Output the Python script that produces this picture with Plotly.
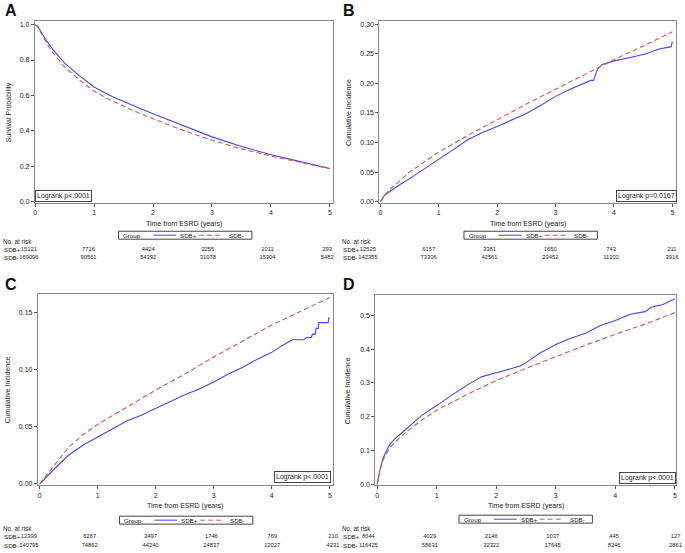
import plotly.graph_objects as go

W, H = 685, 553
def PX(px): return px / W
def PY(py): return 1 - py / H

# ---------------- data ----------------
risk_times = [0, 1, 2, 3, 4, 5]

# Panel A: survival probability
times_a = [0, 0.05, 0.1, 0.15, 0.2, 0.3, 0.4, 0.5, 0.75, 1.0, 1.25, 1.5, 1.75, 2.0, 2.5, 3.0, 3.5, 4.0, 4.5, 5.0]
sdbp_a = [1.0, 0.988, 0.96, 0.93, 0.905, 0.86, 0.818, 0.782, 0.712, 0.648, 0.603, 0.565, 0.53, 0.497, 0.43, 0.366, 0.312, 0.265, 0.226, 0.187]
sdbm_a = [1.0, 0.985, 0.952, 0.92, 0.892, 0.842, 0.798, 0.76, 0.688, 0.625, 0.578, 0.538, 0.502, 0.468, 0.404, 0.347, 0.298, 0.258, 0.222, 0.186]
risk_a_p = [15121, 7716, 4424, 2255, 1011, 293]
risk_a_m = [169096, 90561, 54392, 31078, 15304, 5482]

# Panel B: cumulative incidence
times_bp = [0, 0.05, 0.1, 0.2, 0.35, 0.5, 0.75, 1, 1.25, 1.5, 1.75, 2, 2.25, 2.5, 2.75, 3, 3.25, 3.5, 3.6, 3.65, 3.72, 3.8, 4.0, 4.3, 4.55, 4.77, 4.94, 4.98, 5.0]
sdbp_b = [0, 0.008, 0.013, 0.02, 0.03, 0.039, 0.055, 0.071, 0.088, 0.105, 0.117, 0.127, 0.138, 0.149, 0.163, 0.178, 0.19, 0.201, 0.205, 0.205, 0.224, 0.232, 0.238, 0.244, 0.25, 0.258, 0.262, 0.262, 0.271]
times_bm = [0, 0.05, 0.1, 0.2, 0.35, 0.5, 0.75, 1, 1.5, 2, 2.5, 3, 3.5, 4, 4.5, 5]
sdbm_b = [0, 0.008, 0.014, 0.024, 0.037, 0.05, 0.067, 0.084, 0.112, 0.139, 0.165, 0.19, 0.215, 0.24, 0.263, 0.287]
risk_b_p = [12525, 6157, 3381, 1650, 743, 211]
risk_b_m = [142355, 73306, 42561, 23452, 11202, 3916]

# Panel C: cumulative incidence
times_cp = [0, 0.05, 0.1, 0.25, 0.5, 0.75, 1, 1.25, 1.5, 1.75, 2, 2.25, 2.5, 2.75, 3, 3.25, 3.5, 3.75, 4, 4.15, 4.3, 4.35, 4.55, 4.6, 4.68, 4.7, 4.75, 4.76, 4.8, 4.81, 4.97, 4.98, 5.0]
sdbp_c = [0, 0.002, 0.005, 0.013, 0.025, 0.034, 0.041, 0.048, 0.055, 0.06, 0.066, 0.072, 0.078, 0.083, 0.089, 0.096, 0.102, 0.109, 0.115, 0.12, 0.125, 0.126, 0.126, 0.128, 0.128, 0.131, 0.131, 0.136, 0.136, 0.141, 0.141, 0.145, 0.145]
times_cm = [0, 0.05, 0.1, 0.25, 0.5, 0.75, 1, 1.5, 2, 2.5, 3, 3.5, 4, 4.5, 5]
sdbm_c = [0, 0.003, 0.006, 0.016, 0.032, 0.043, 0.052, 0.067, 0.082, 0.096, 0.111, 0.125, 0.139, 0.151, 0.163]
risk_c_p = [12399, 6267, 3497, 1746, 769, 210]
risk_c_m = [140795, 74862, 44240, 24837, 12027, 4231]

# Panel D: cumulative incidence
times_dp = [0, 0.02, 0.05, 0.1, 0.2, 0.3, 0.5, 0.75, 1, 1.25, 1.5, 1.75, 2, 2.25, 2.4, 2.5, 2.75, 3, 3.25, 3.5, 3.75, 4, 4.25, 4.5, 4.6, 4.8, 5]
sdbp_d = [0, 0.02, 0.045, 0.078, 0.115, 0.135, 0.167, 0.204, 0.233, 0.264, 0.292, 0.318, 0.33, 0.343, 0.35, 0.36, 0.39, 0.414, 0.432, 0.447, 0.47, 0.485, 0.503, 0.511, 0.524, 0.532, 0.549]
times_dm = [0, 0.02, 0.05, 0.1, 0.2, 0.3, 0.5, 0.75, 1, 1.5, 2, 2.5, 3, 3.5, 4, 4.5, 5]
sdbm_d = [0, 0.02, 0.043, 0.072, 0.105, 0.125, 0.157, 0.19, 0.219, 0.265, 0.307, 0.343, 0.378, 0.412, 0.444, 0.474, 0.508]
risk_d_p = [8644, 4029, 2146, 1037, 445, 127]
risk_d_m = [116425, 58631, 32322, 17645, 8246, 2861]

panel_letters = ["A", "B", "C", "D"]
group_labels = ["SDB+", "SDB-"]
logrank_texts = ["Logrank p&lt;.0001", "Logrank p=0.0167", "Logrank p&lt;.0001", "Logrank p&lt;.0001"]
y_titles = ["Survival Probability", "Cumulative Incidence", "Cumulative Incidence", "Cumulative Incidence"]
x_title = "Time from ESRD (years)"

# ---------------- style ----------------
FONT = "Liberation Sans, Arial, sans-serif"
BLUE = "rgb(70,70,235)"
RED = "rgb(215,85,85)"
TXT = "#222222"
FS = 7        # axis text
LFS = 6.2     # risk-table labels / legend
NFS = 5.8     # risk-table numbers

fig = go.Figure()

panels = [
    dict(tp=times_a, yp=sdbp_a, tm=times_a, ym=sdbm_a, rp=risk_a_p, rm=risk_a_m,
         xdom=(33, 332), ydom=(20, 203), xr=[-0.005, 5.045], yr=[-0.007, 1.021], dtick=0.2, fmt=".1f",
         rdom=(27.0, 326.6), rows=(249.5, 257.5), nar=241.5, lx=0,
         leg_cx=184, leg_y=235.5, xt_y=224, lr=(61.3, 196.4), ytx=6.5, letter=(9, 10)),
    dict(tp=times_bp, yp=sdbp_b, tm=times_bm, ym=sdbm_b, rp=risk_b_p, rm=risk_b_m,
         xdom=(379, 677), ydom=(20.5, 203), xr=[-0.017, 5.063], yr=[-0.002, 0.3047], dtick=0.05, fmt=".2f",
         rdom=(367.5, 672.9), rows=(249.5, 257.5), nar=241.5, lx=340,
         leg_cx=531, leg_y=235.5, xt_y=224, lr=(647.3, 196.0), ytx=347.5, letter=(349, 10)),
    dict(tp=times_cp, yp=sdbp_c, tm=times_cm, ym=sdbm_c, rp=risk_c_p, rm=risk_c_m,
         xdom=(36, 332), ydom=(295, 487), xr=[-0.03, 5.046], yr=[-0.0013, 0.1657], dtick=0.05, fmt=".2f",
         rdom=(27.0, 332.5), rows=(538.5, 547.5), nar=530.5, lx=0,
         leg_cx=185, leg_y=522, xt_y=508, lr=(302.2, 478.8), ytx=5.5, letter=(9, 285)),
    dict(tp=times_dp, yp=sdbp_d, tm=times_dm, ym=sdbm_d, rp=risk_d_p, rm=risk_d_m,
         xdom=(375, 677), ydom=(296, 487), xr=[-0.03, 5.02], yr=[-0.003, 0.559], dtick=0.1, fmt=".1f",
         rdom=(368, 676.5), rows=(538.5, 547.5), nar=530.5, lx=340,
         leg_cx=526, leg_y=521, xt_y=508, lr=(648.3, 479.2), ytx=346.5, letter=(349, 285)),
]

annotations = []
shapes = []
layout_axes = {}

for i, p in enumerate(panels):
    n = i + 1
    xa = "x" if n == 1 else f"x{n}"
    ya = "y" if n == 1 else f"y{n}"
    xk = "xaxis" if n == 1 else f"xaxis{n}"
    yk = "yaxis" if n == 1 else f"yaxis{n}"
    # curves
    fig.add_trace(go.Scatter(x=p["tp"], y=p["yp"], mode="lines", line=dict(color=BLUE, width=1.1),
                             xaxis=xa, yaxis=ya, showlegend=False, name="SDB+"))
    fig.add_trace(go.Scatter(x=p["tm"], y=p["ym"], mode="lines", line=dict(color=RED, width=1.1, dash="5px,3px"),
                             xaxis=xa, yaxis=ya, showlegend=False, name="SDB-"))
    common = dict(showline=True, linecolor="#8a8a8a", linewidth=1, mirror=True, showgrid=False,
                  zeroline=False, ticks="outside", ticklen=3, tickwidth=1, tickcolor="#555",
                  tickfont=dict(size=FS, color=TXT, family=FONT))
    layout_axes[xk] = dict(domain=[PX(p["xdom"][0]), PX(p["xdom"][1])], range=p["xr"], anchor=ya,
                           tickmode="linear", tick0=0, dtick=1, **common)
    layout_axes[yk] = dict(domain=[PY(p["ydom"][1]), PY(p["ydom"][0])], range=p["yr"], anchor=xa,
                           tickmode="linear", tick0=0, dtick=p["dtick"], tickformat=p["fmt"], **common)
    # risk table axis
    rn = n + 4
    rxk, ryk = f"xaxis{rn}", f"yaxis{rn}"
    r0, r1 = p["rows"]
    step = r1 - r0
    layout_axes[rxk] = dict(domain=[PX(p["rdom"][0]), PX(p["rdom"][1])], range=[0, 5], visible=False, anchor=f"y{rn}")
    layout_axes[ryk] = dict(domain=[PY(r1 + step / 2), PY(r0 - step / 2)], range=[-0.5, 1.5], visible=False, anchor=f"x{rn}")
    for row_y, vals in ((1, p["rp"]), (0, p["rm"])):
        fig.add_trace(go.Scatter(x=risk_times, y=[row_y] * len(vals), mode="text",
                                 text=[str(v) for v in vals], textposition="middle center",
                                 textfont=dict(size=NFS, color=TXT, family=FONT),
                                 xaxis=f"x{rn}", yaxis=f"y{rn}", showlegend=False,
                                 cliponaxis=False, hoverinfo="skip"))
    # risk table labels
    annotations.append(dict(text="No. at risk", x=PX(p["lx"] + 0.5), y=PY(p["nar"]), xref="paper", yref="paper",
                            xanchor="left", yanchor="middle", showarrow=False, borderpad=0,
                            font=dict(size=6.3, color=TXT, family=FONT)))
    for lab, ry in zip(group_labels, (r0, r1)):
        annotations.append(dict(text=lab, x=PX(p["lx"] + 1.0), y=PY(ry), xref="paper", yref="paper",
                                xanchor="left", yanchor="middle", showarrow=False, borderpad=0,
                                font=dict(size=LFS, color=TXT, family=FONT)))
    # panel letter
    annotations.append(dict(text="<b>%s</b>" % panel_letters[i], x=PX(p["letter"][0]), y=PY(p["letter"][1]),
                            xref="paper", yref="paper", xanchor="center", yanchor="middle", showarrow=False,
                            font=dict(size=16, color="#111", family=FONT)))
    # axis titles
    xc = (p["xdom"][0] + p["xdom"][1]) / 2
    yc = (p["ydom"][0] + p["ydom"][1]) / 2
    annotations.append(dict(text=x_title, x=PX(xc), y=PY(p["xt_y"]), xref="paper", yref="paper",
                            xanchor="center", yanchor="middle", showarrow=False,
                            font=dict(size=FS, color=TXT, family=FONT)))
    annotations.append(dict(text=y_titles[i], x=PX(p["ytx"]), y=PY(yc), xref="paper", yref="paper",
                            xanchor="center", yanchor="middle", showarrow=False, textangle=-90,
                            font=dict(size=FS, color=TXT, family=FONT)))
    # logrank box
    annotations.append(dict(text=logrank_texts[i], x=PX(p["lr"][0]), y=PY(p["lr"][1]), xref="paper", yref="paper",
                            xanchor="center", yanchor="middle", showarrow=False,
                            bordercolor="#444", borderwidth=1, borderpad=1, bgcolor="white",
                            font=dict(size=FS, color=TXT, family=FONT)))
    # legend (manual)
    cx, cy = p["leg_cx"], p["leg_y"]
    shapes.append(dict(type="rect", xref="paper", yref="paper", x0=PX(cx - 67), x1=PX(cx + 67),
                       y0=PY(cy + 4), y1=PY(cy - 4), line=dict(color="#444", width=1)))
    shapes.append(dict(type="line", xref="paper", yref="paper", x0=PX(cx - 32), x1=PX(cx - 9),
                       y0=PY(cy), y1=PY(cy), line=dict(color=BLUE, width=1)))
    shapes.append(dict(type="line", xref="paper", yref="paper", x0=PX(cx + 14), x1=PX(cx + 38),
                       y0=PY(cy), y1=PY(cy), line=dict(color=RED, width=1, dash="5px,3px")))
    for txt, lx in (("Group", cx - 63), ("SDB+", cx - 6), ("SDB-", cx + 43)):
        annotations.append(dict(text=txt, x=PX(lx), y=PY(cy), xref="paper", yref="paper",
                                xanchor="left", yanchor="middle", showarrow=False, borderpad=0,
                                font=dict(size=LFS, color=TXT, family=FONT)))

fig.update_layout(
    width=W, height=H, autosize=False,
    margin=dict(l=0, r=0, t=0, b=0, pad=0),
    paper_bgcolor="white", plot_bgcolor="white",
    font=dict(family=FONT, size=FS, color=TXT),
    showlegend=False,
    annotations=annotations, shapes=shapes,
    **layout_axes,
)

fig.write_html("out.html", config={"displayModeBar": False},
               post_script="document.body.style.margin='0px';document.body.style.padding='0px';")
